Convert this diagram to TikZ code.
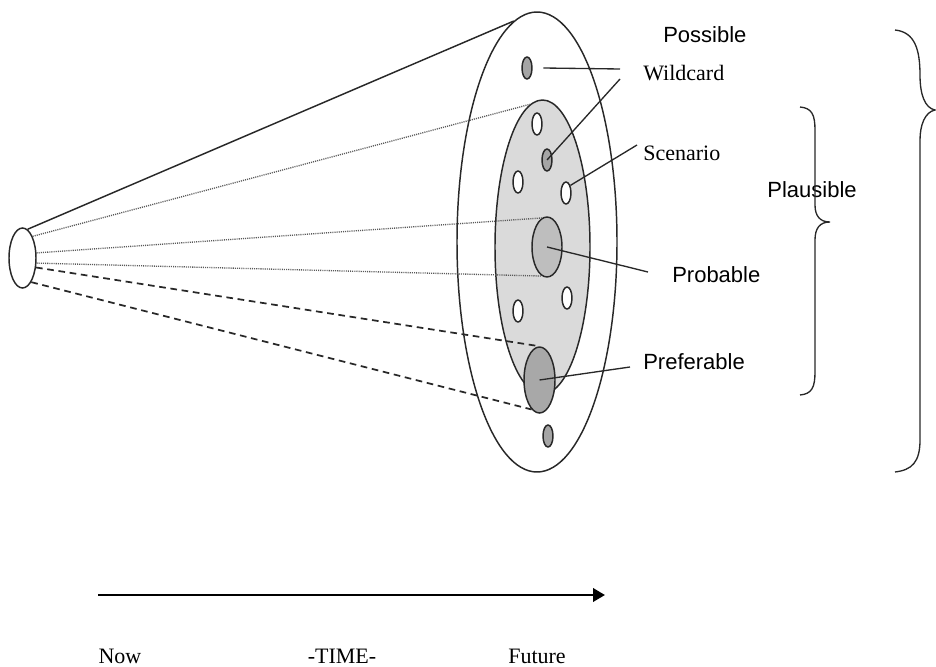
\documentclass[tikz,border=0pt]{standalone}
\usepackage{fontspec}
\setmainfont{Liberation Serif}
\setsansfont{Liberation Sans}
\usetikzlibrary{shapes.geometric,arrows.meta}
\definecolor{rimgray}{RGB}{40, 40, 40}
\definecolor{plausgray}{RGB}{218, 218, 218}
\definecolor{probgray}{RGB}{190, 190, 190}
\definecolor{prefgray}{RGB}{168, 168, 168}
\definecolor{wildgray}{RGB}{165, 165, 165}
\tikzset{
  blob/.style={ellipse, draw=rimgray, line width=1.1pt, inner sep=0pt},
  seed/.style={blob, minimum width=7.5pt, minimum height=16.5pt},
  sanslabel/.style={font=\sffamily\fontsize{16.5}{19}\selectfont, inner sep=0pt, anchor=west},
  seriflabel/.style={font=\rmfamily\fontsize{16.5}{19}\selectfont, inner sep=0pt, anchor=west},
  leader/.style={draw=rimgray, line width=1pt},
  conedot/.style={draw=gray!70!black, line width=1pt, dash pattern=on 0.8pt off 0.8pt},
  conedash/.style={draw=rimgray, line width=1.3pt, dash pattern=on 5pt off 3.5pt},
  bracket/.style={draw=rimgray, line width=1pt},
}

\begin{document}
\begin{tikzpicture}[x=0.75pt, y=-0.75pt]
            \useasboundingbox (0,0) rectangle (936,667);
            % cone of futures
            \node[blob, fill=white,     minimum width=120pt,    minimum height=345pt]   (possible)   at (537,242)   {};
            \node[blob, fill=plausgray, minimum width=71.25pt,  minimum height=220.5pt] (plausible)  at (542.5,247) {};
            \node[blob, fill=white,     minimum width=20.25pt,  minimum height=45pt]    (now)        at (22.5,258)  {};
            \node[seed, fill=wildgray] (wildA) at (527,68)  {};
            \node[seed, fill=wildgray] (wildB) at (547,160) {};
            \node[seed, fill=wildgray] (wildC) at (548,436) {};
            \node[seed, fill=white]    (scenA) at (537,124) {};
            \node[seed, fill=white]    (scenB) at (518,182) {};
            \node[seed, fill=white]    (scenC) at (566,193) {};
            \node[seed, fill=white]    (scenD) at (518,311) {};
            \node[seed, fill=white]    (scenE) at (567,298) {};
            \node[blob, fill=probgray,  minimum width=22.5pt,   minimum height=45pt]    (probable)   at (547,247)   {};
            \node[blob, fill=prefgray,  minimum width=23.25pt,  minimum height=49.5pt]  (preferable) at (539.5,380) {};

            \draw[rimgray, line width=1.1pt] (now.80)  -- (possible.96);
            \draw[conedot]                   (now.65)  -- (plausible.95);
            \draw[conedot]                   (now.20)  -- (probable.100);
            \draw[conedot]                   (now.-20) -- (probable.260);
            \draw[conedash]                  (now.-35) -- (preferable.90);
            \draw[conedash]                  (now.-70) -- (preferable.255);

            % labels
            \node[sanslabel]               (possLabel)  at (663,35)  {Possible};
            \node[seriflabel]              (wildLabel)  at (643,73)  {Wildcard};
            \node[seriflabel]              (scenLabel)  at (643,153) {Scenario};
            \node[sanslabel]               (probLabel)  at (672,275) {Probable};
            \node[sanslabel]               (prefLabel)  at (643,362) {Preferable};
            \node[sanslabel, anchor=center] (plausLabel) at (812,190) {Plausible};

            \coordinate (wildEndA) at (620,69);
            \coordinate (wildEndB) at (620,79);
            \coordinate (scenEnd)  at (637,145);
            \coordinate (probEnd)  at (648,272);
            \coordinate (prefEnd)  at (630,367);
            \draw[leader] ([xshift=8pt]wildA.east) -- (wildEndA);
            \draw[leader] (wildB.center)           -- (wildEndB);
            \draw[leader] (scenC.60)               -- (scenEnd);
            \draw[leader] (probable.center)        -- (probEnd);
            \draw[leader] (preferable.center)      -- (prefEnd);

            % braces
            \draw[bracket] (800,107) .. controls (812,108) and (815,115) .. (815,130) -- (815,205)
                 .. controls (815,216) and (820,222) .. (830,222) .. controls (820,222) and (815,228) .. (815,240)
                 -- (815,372) .. controls (815,387) and (812,394) .. (800,395);
            \draw[bracket] (895,30) .. controls (915,32) and (920,50) .. (920,75)
                 .. controls (920,95) and (925,108) .. (935,110) .. controls (925,112) and (920,125) .. (920,140)
                 -- (920,440) .. controls (920,462) and (912,470) .. (895,472);

            % time axis
            \coordinate (timeStart) at (98,595);
            \coordinate (timeEnd)   at (605,595);
            \draw[line width=2pt, -{Triangle[length=9pt, width=10pt]}] (timeStart) -- (timeEnd);
            \node[seriflabel, anchor=center] (nowLabel)  at (120,656) {Now};
            \node[seriflabel, anchor=center] (timeLabel) at (342,656) {-TIME-};
            \node[seriflabel, anchor=center] (futLabel)  at (537,656) {Future};
        \end{tikzpicture}
\end{document}
